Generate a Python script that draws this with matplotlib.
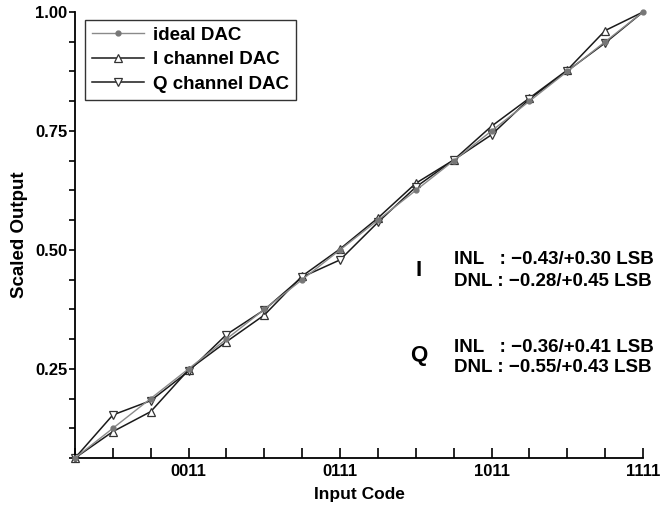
import numpy as np
import matplotlib.pyplot as plt
from matplotlib.ticker import MultipleLocator

plt.rcParams['font.family'] = ['Liberation Sans', 'DejaVu Sans']
plt.rcParams['font.weight'] = 'bold'

codes = np.arange(16)
ideal = [(k + 1) / 16 for k in codes]
i_dac = [0.0625, 0.118, 0.160, 0.248, 0.307, 0.363, 0.445, 0.502,
         0.567, 0.640, 0.689, 0.760, 0.819, 0.878, 0.961, 1.0]
q_dac = [0.0625, 0.153, 0.183, 0.245, 0.322, 0.374, 0.443, 0.479,
         0.558, 0.632, 0.689, 0.742, 0.817, 0.876, 0.935, 1.0]
tick_codes = [3, 7, 11, 15]
tick_labels = ['0011', '0111', '1011', '1111']

fig = plt.figure(figsize=(6.62, 5.09), dpi=100)
ax = fig.add_axes([0.1133, 0.1002, 0.8580, 0.8762])

ax.plot(codes, ideal, color='#8a8a8a', lw=1.0, marker='o', ms=3.5,
        mfc='#777777', mec='#777777', label='ideal DAC', clip_on=False, zorder=3)
ax.plot(codes, i_dac, color='#1a1a1a', lw=1.1, marker='^', ms=6,
        mfc='white', mec='#333333', mew=0.9, markevery=slice(0, 15),
        label='I channel DAC', clip_on=False, zorder=2)
ax.plot(codes, q_dac, color='#1a1a1a', lw=1.1, marker='v', ms=6,
        mfc='white', mec='#333333', mew=0.9, markevery=slice(0, 15),
        label='Q channel DAC', clip_on=False, zorder=2)

ax.set_xlim(0, 15)
ax.set_ylim(0.0625, 1.0)
ax.set_xticks(tick_codes)
ax.set_xticklabels(tick_labels)
ax.xaxis.set_minor_locator(MultipleLocator(1))
ax.set_yticks([0.25, 0.5, 0.75, 1.0])
ax.set_yticklabels(['0.25', '0.50', '0.75', '1.00'])
ax.yaxis.set_minor_locator(MultipleLocator(0.0625))

ax.spines['top'].set_visible(False)
ax.spines['right'].set_visible(False)
for s in ['left', 'bottom']:
    ax.spines[s].set_linewidth(1.3)
ax.tick_params(axis='x', which='both', direction='in', length=7, width=1.2,
               labelsize=12, pad=4)
ax.tick_params(axis='y', which='both', direction='out', length=4, width=1.2,
               labelsize=12, pad=1.5)

ax.set_xlabel('Input Code', fontsize=12.5, fontweight='bold', labelpad=6)
ax.set_ylabel('Scaled Output', fontsize=13.5, fontweight='bold', labelpad=5)

leg = ax.legend(loc='upper left', bbox_to_anchor=(0.0176, 0.982), fontsize=13.5,
                frameon=True, fancybox=False, edgecolor='black',
                handlelength=2.8, borderpad=0.35, labelspacing=0.4,
                handletextpad=0.5, borderaxespad=0)
leg.get_frame().set_linewidth(1.0)
for t in leg.get_texts():
    t.set_fontweight('bold')

def fx(px):
    return px / 662

def fy(py):
    return 1 - py / 509

fig.text(fx(419), fy(270), 'I', fontsize=16, fontweight='bold', ha='center', va='center')
fig.text(fx(454), fy(259), 'INL   : \u22120.43/+0.30 LSB', fontsize=13.5, fontweight='bold', va='center')
fig.text(fx(454), fy(281), 'DNL : \u22120.28/+0.45 LSB', fontsize=13.5, fontweight='bold', va='center')
fig.text(fx(419), fy(356), 'Q', fontsize=16, fontweight='bold', ha='center', va='center')
fig.text(fx(454), fy(347), 'INL   : \u22120.36/+0.41 LSB', fontsize=13.5, fontweight='bold', va='center')
fig.text(fx(454), fy(368), 'DNL : \u22120.55/+0.43 LSB', fontsize=13.5, fontweight='bold', va='center')

fig.savefig('out.png', dpi=100)
